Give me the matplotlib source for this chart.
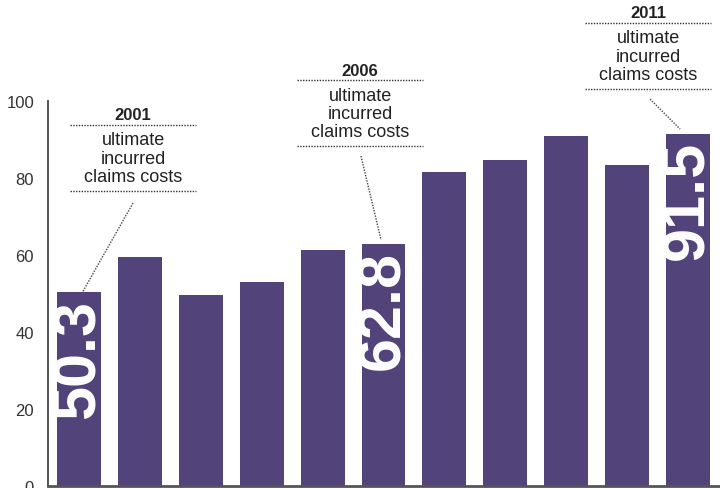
import matplotlib
matplotlib.use('Agg')
import matplotlib.pyplot as plt

years = ['2001', '2002', '2003', '2004', '2005', '2006', '2007', '2008', '2009', '2010', '2011']
costs = [50.3, 59.5, 49.6, 53.0, 61.3, 62.8, 81.5, 84.8, 91.0, 83.5, 91.5]
labelled = {'2001': '50.3', '2006': '62.8', '2011': '91.5'}
note_lines = ['ultimate', 'incurred', 'claims costs']

bar_color = '#52447a'
txt_color = '#222222'
plt.rcParams['font.family'] = ['Liberation Sans', 'DejaVu Sans']

fig = plt.figure(figsize=(7.2, 4.89), dpi=100)
ax = fig.add_axes([48 / 720, 2 / 489, 672 / 720, 385 / 489])

x = list(range(len(years)))
bars = ax.bar(x, costs, width=0.72, color=bar_color, zorder=2)

# big white numbers inside the labelled bars, clipped to the bar
for i, yr in enumerate(years):
    if yr in labelled:
        t = ax.text(i, costs[i] - 1.6, labelled[yr], rotation=90, ha='center', va='top',
                    color='white', fontsize=44, fontweight='bold', zorder=3)
        t.set_clip_path(bars[i])

# note boxes: (bar index, centre x, year y, leader start, leader end)
notes = [
    (0, 0.887, 96.4, (0.887, 73.5), (0.066, 50.6)),
    (5, 4.614, 108.05, (4.63, 85.7), (4.96, 63.9)),
    (10, 9.343, 122.9, (9.376, 100.5), (9.87, 92.7)),
]
for idx, cx, yy, p0, p1 in notes:
    ax.text(cx, yy, years[idx], ha='center', va='center', fontsize=12,
            fontweight='bold', color=txt_color, clip_on=False)
    ax.plot([cx - 1.03, cx + 1.03], [yy - 2.6, yy - 2.6], color='#333333', lw=1,
            ls=(0, (1, 1)), clip_on=False)
    for k, line in enumerate(note_lines):
        ax.text(cx, yy - 6.5 - 4.75 * k, line, ha='center', va='center', fontsize=13,
                color=txt_color, clip_on=False)
    ax.plot([cx - 1.03, cx + 1.03], [yy - 19.8, yy - 19.8], color='#333333', lw=1,
            ls=(0, (1, 1)), clip_on=False)
    ax.plot([p0[0], p1[0]], [p0[1], p1[1]], color='#444444', lw=1,
            ls=(0, (1, 1)), clip_on=False, zorder=4)

ax.set_xlim(-0.509, 10.525)
ax.set_ylim(0, 100)
ax.set_xticks([])
ax.set_yticks([0, 20, 40, 60, 80, 100])
ax.tick_params(axis='y', length=0, pad=10, labelsize=12, labelcolor='#333333')
for s in ['top', 'right']:
    ax.spines[s].set_visible(False)
ax.spines['left'].set_color('#444444')
ax.spines['bottom'].set_color('#555555')
ax.spines['left'].set_linewidth(1.3)
ax.spines['bottom'].set_linewidth(2)

fig.savefig('out.png', dpi=100)
